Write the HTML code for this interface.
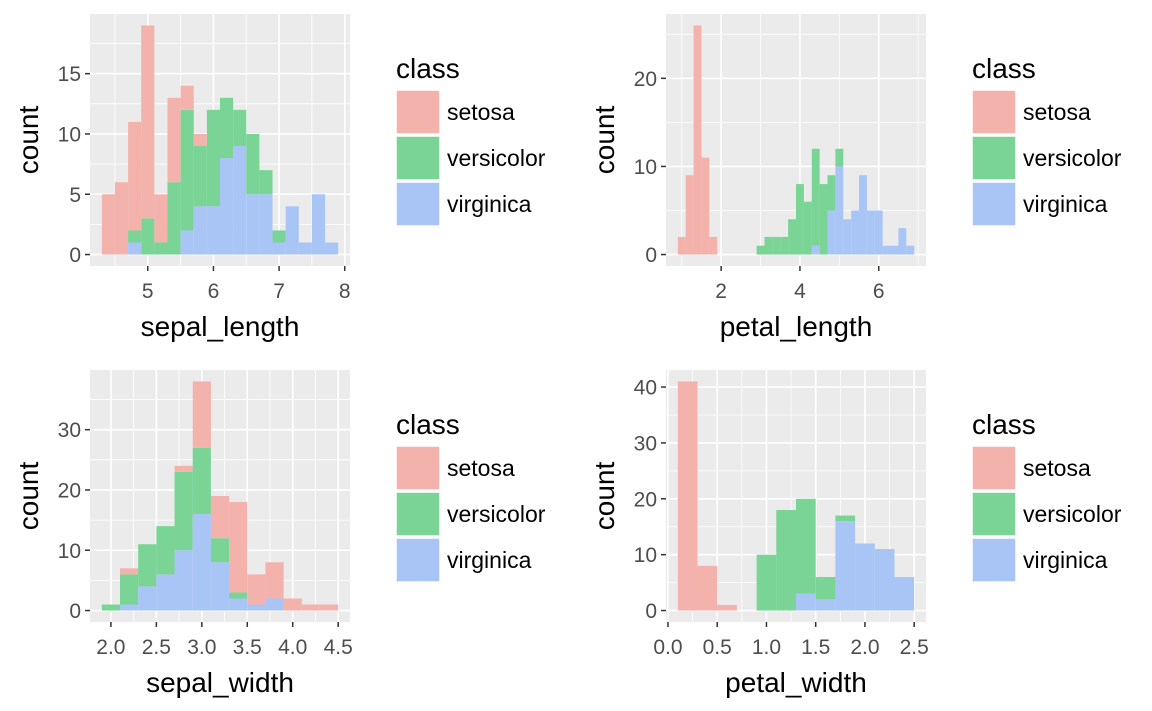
<!DOCTYPE html>
<html><head><meta charset="utf-8"><style>
body{margin:0;background:#fff;}
svg{display:block;font-family:"Liberation Sans",Arial,sans-serif;}
</style></head><body>
<svg id="chart" width="1152" height="711" viewBox="0 0 1152 711" xmlns="http://www.w3.org/2000/svg"></svg>
<script>
// ---- data (counts per bin, stacked: virginica bottom, versicolor, setosa top) ----
const slStart = 4.3, slWidth = 0.2;
const slSetosa     = [5,6,9,16,4,7,2,1,0,0,0,0,0,0,0,0,0,0];
const slVersicolor = [0,0,1,3,1,6,10,5,8,5,3,5,2,1,0,0,0,0];
const slVirginica  = [0,0,1,0,0,0,2,4,4,8,9,5,5,1,4,1,5,1];
const slXTicks = [5,6,7,8];
const slYTicks = [0,5,10,15];

const plStart = 0.9, plWidth = 0.2;
const plSetosa     = [2,9,26,11,2,0,0,0,0,0,0,0,0,0,0,0,0,0,0,0,0,0,0,0,0,0,0,0,0,0];
const plVersicolor = [0,0,0,0,0,0,0,0,0,0,1,2,2,2,4,8,6,11,8,4,2,0,0,0,0,0,0,0,0,0];
const plVirginica  = [0,0,0,0,0,0,0,0,0,0,0,0,0,0,0,0,0,1,0,5,10,4,5,9,5,5,1,1,3,1];
const plXTicks = [2,4,6];
const plYTicks = [0,10,20];

const swStart = 1.9, swWidth = 0.2;
const swSetosa     = [0,1,0,0,1,11,7,15,5,6,2,1,1];
const swVersicolor = [1,5,7,8,13,11,4,1,0,0,0,0,0];
const swVirginica  = [0,1,4,6,10,16,8,2,1,2,0,0,0];
const swXTicks = [2.0,2.5,3.0,3.5,4.0,4.5];
const swYTicks = [0,10,20,30];

const pwStart = 0.1, pwWidth = 0.2;
const pwSetosa     = [41,8,1,0,0,0,0,0,0,0,0,0];
const pwVersicolor = [0,0,0,0,10,18,17,4,1,0,0,0];
const pwVirginica  = [0,0,0,0,0,0,3,2,16,12,11,6];
const pwXTicks = [0.0,0.5,1.0,1.5,2.0,2.5];
const pwYTicks = [0,10,20,30,40];

const classes = ["setosa","versicolor","virginica"];
const colors = {setosa:"#F4B2AD", versicolor:"#79D495", virginica:"#A8C5F5"};

const NS = "http://www.w3.org/2000/svg";
const svg = document.getElementById("chart");
function mk(tag, attrs, parent){
  const e = document.createElementNS(NS, tag);
  for (const k in attrs) e.setAttribute(k, attrs[k]);
  (parent||svg).appendChild(e);
  return e;
}

function panel(opt){
  const {name, L, T, W, H, start, width, set, ver, vir, xTicks, yTicks, xTitle, dec, legX} = opt;
  const g = mk("g", {});
  
  
  const n = set.length;
  const xmin = start, xmax = start + n*width;
  let ymax = 0;
  for (let i=0;i<n;i++) ymax = Math.max(ymax, set[i]+ver[i]+vir[i]);
  const xr = (xmax-xmin)*0.05, yr = ymax*0.05;
  const x0 = xmin - xr, x1 = xmax + xr, y0 = -yr, y1 = ymax + yr;
  const X = v => L + (v - x0)/(x1 - x0)*W;
  const Y = v => T + H - (v - y0)/(y1 - y0)*H;

  const bg = mk("rect", {x:L, y:T, width:W, height:H, fill:"#EBEBEB"}, g);
  
  

  const xs = xTicks[1]-xTicks[0], ys = yTicks[1]-yTicks[0];
  for (let v = xTicks[0]-xs/2; v <= x1; v += xs/2){
    if (v < x0) continue;
    const major = Math.abs(((v - xTicks[0])/xs) - Math.round((v - xTicks[0])/xs)) < 1e-6;
    mk("line", {x1:X(v), x2:X(v), y1:T, y2:T+H, stroke:"#fff", "stroke-width": major?1.6:0.8}, g);
  }
  for (let v = yTicks[0]-ys/2; v <= y1; v += ys/2){
    if (v < y0) continue;
    const major = Math.abs(((v - yTicks[0])/ys) - Math.round((v - yTicks[0])/ys)) < 1e-6;
    mk("line", {y1:Y(v), y2:Y(v), x1:L, x2:L+W, stroke:"#fff", "stroke-width": major?1.6:0.8}, g);
  }

  for (let i=0;i<n;i++){
    const a = start + i*width, b = a + width;
    const segs = [["virginica",0,vir[i]],["versicolor",vir[i],vir[i]+ver[i]],["setosa",vir[i]+ver[i],vir[i]+ver[i]+set[i]]];
    for (const [c, lo, hi] of segs){
      if (hi <= lo) continue;
      const r = mk("rect", {x:X(a), y:Y(hi), width:X(b)-X(a), height:Y(lo)-Y(hi), fill:colors[c]}, g);
      
      
    }
  }

  for (const v of xTicks){
    mk("line", {x1:X(v), x2:X(v), y1:T+H, y2:T+H+5, stroke:"#333", "stroke-width":1.5}, g);
    const t = mk("text", {x:X(v), y:T+H+32, "text-anchor":"middle", "font-size":21, fill:"#4D4D4D"}, g);
    t.textContent = dec ? v.toFixed(1) : String(v);
    
    
  }
  for (const v of yTicks){
    mk("line", {x1:L-5, x2:L, y1:Y(v), y2:Y(v), stroke:"#333", "stroke-width":1.5}, g);
    const t = mk("text", {x:L-9, y:Y(v)+7.5, "text-anchor":"end", "font-size":21, fill:"#4D4D4D"}, g);
    t.textContent = String(v);
    
    
  }
  const xt = mk("text", {x:L+W/2, y:T+H+70, "text-anchor":"middle", "font-size":28, fill:"#000"}, g);
  xt.textContent = xTitle;
  
  
  const cy = T+H/2, cx = L-52;
  const yt = mk("text", {x:cx, y:cy, "text-anchor":"middle", "font-size":28, fill:"#000", transform:`rotate(-90 ${cx} ${cy})`}, g);
  yt.textContent = "count";
  
  

  const lg = mk("g", {}, g);
  
  
  const lt = mk("text", {x:legX, y:T+64, "font-size":28, fill:"#000"}, lg);
  lt.textContent = "class";
  
  
  classes.forEach((c, k) => {
    const ky = T + 76 + k*46;
    const kr = mk("rect", {x:legX, y:ky, width:44, height:44, fill:colors[c], stroke:"#fff", "stroke-width":1.5}, lg);
    
    
    const kt = mk("text", {x:legX+51, y:ky+30, "font-size":23, fill:"#000"}, lg);
    kt.textContent = c;
    
    
  });
}

panel({name:"sepal-length", L:90, T:14, W:260, H:252, start:slStart, width:slWidth, set:slSetosa, ver:slVersicolor, vir:slVirginica, xTicks:slXTicks, yTicks:slYTicks, xTitle:"sepal_length", dec:false, legX:396});
panel({name:"petal-length", L:666, T:14, W:260, H:252, start:plStart, width:plWidth, set:plSetosa, ver:plVersicolor, vir:plVirginica, xTicks:plXTicks, yTicks:plYTicks, xTitle:"petal_length", dec:false, legX:972});
panel({name:"sepal-width", L:90, T:370, W:260, H:252, start:swStart, width:swWidth, set:swSetosa, ver:swVersicolor, vir:swVirginica, xTicks:swXTicks, yTicks:swYTicks, xTitle:"sepal_width", dec:true, legX:396});
panel({name:"petal-width", L:666, T:370, W:260, H:252, start:pwStart, width:pwWidth, set:pwSetosa, ver:pwVersicolor, vir:pwVirginica, xTicks:pwXTicks, yTicks:pwYTicks, xTitle:"petal_width", dec:true, legX:972});
</script>
</body></html>
